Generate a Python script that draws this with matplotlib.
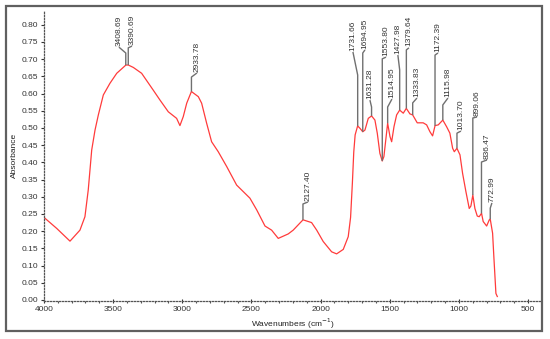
import matplotlib
matplotlib.use("Agg")
import matplotlib.pyplot as plt
import numpy as np
from matplotlib.patches import Rectangle
from matplotlib.ticker import MultipleLocator, FormatStrFormatter

plt.rcParams['font.family'] = ['Liberation Sans', 'DejaVu Sans']

# ---- data ----
wavenumber = [4000, 3908, 3812, 3740, 3704, 3680, 3655, 3631, 3607, 3571, 3523, 3474,
              3427, 3408, 3390, 3354, 3294, 3210, 3161, 3101, 3041, 3017, 2993, 2968,
              2934, 2884, 2860, 2824, 2788, 2740, 2679, 2607, 2511, 2462, 2402, 2354,
              2306, 2234, 2198, 2127, 2065, 2028, 1981, 1920, 1884, 1836, 1800, 1783,
              1770, 1760, 1750, 1732, 1715, 1695, 1679, 1655, 1631, 1607, 1590, 1571,
              1554, 1542, 1523, 1515, 1498, 1486, 1469, 1450, 1428, 1402, 1380, 1354,
              1334, 1301, 1258, 1233, 1209, 1190, 1172, 1149, 1116, 1089, 1065, 1045,
              1033, 1014, 992, 973, 949, 925, 913, 899, 884, 867, 853, 836, 824, 799,
              780, 773, 756, 747, 732, 722]
absorbance = [0.240, 0.208, 0.171, 0.203, 0.242, 0.320, 0.436, 0.494, 0.538, 0.596, 0.630, 0.659,
              0.676, 0.683, 0.683, 0.676, 0.659, 0.610, 0.581, 0.547, 0.528, 0.507, 0.533, 0.572,
              0.606, 0.591, 0.572, 0.514, 0.460, 0.431, 0.388, 0.334, 0.296, 0.262, 0.215, 0.203,
              0.179, 0.192, 0.203, 0.233, 0.225, 0.203, 0.170, 0.140, 0.134, 0.147, 0.184, 0.240,
              0.340, 0.430, 0.480, 0.506, 0.499, 0.489, 0.494, 0.528, 0.535, 0.523, 0.485, 0.426,
              0.404, 0.417, 0.485, 0.514, 0.475, 0.460, 0.504, 0.538, 0.552, 0.543, 0.557, 0.541,
              0.538, 0.515, 0.515, 0.509, 0.489, 0.477, 0.507, 0.509, 0.523, 0.504, 0.485, 0.441,
              0.431, 0.441, 0.422, 0.368, 0.315, 0.266, 0.273, 0.305, 0.266, 0.244, 0.242, 0.252,
              0.228, 0.215, 0.233, 0.235, 0.194, 0.126, 0.019, 0.010]

peak_labels = [3408.69, 3390.69, 2933.78, 2127.40, 1731.66, 1694.95, 1631.28, 1553.80,
               1514.95, 1427.98, 1379.64, 1333.83, 1172.39, 1115.98, 1013.70, 899.06,
               836.47, 772.99]

x_ticks = [4000, 3500, 3000, 2500, 2000, 1500, 1000, 500]

# ---- layout for peak labels: (leader top y, text x, text bottom y) ----
label_layout = [
    (0.718, 3458, 0.735), (0.733, 3364, 0.738), (0.648, 2894, 0.660), (0.279, 2091, 0.285),
    (0.654, 1766, 0.721), (0.718, 1679, 0.727), (0.561, 1643, 0.581), (0.701, 1527, 0.706),
    (0.561, 1484, 0.584), (0.669, 1441, 0.712), (0.727, 1361, 0.733), (0.573, 1303, 0.587),
    (0.712, 1151, 0.718), (0.567, 1079, 0.587), (0.485, 985, 0.491), (0.529, 869, 0.532),
    (0.401, 797, 0.407), (0.267, 761, 0.282),
]

W, H = 550, 339
fig = plt.figure(figsize=(W / 100, H / 100), dpi=100)
fig.patch.set_facecolor('white')

# outer frame
fig.add_artist(Rectangle((5.5 / W, 1 - 331 / H), (542 - 5.5) / W, (331 - 5.7) / H,
                         transform=fig.transFigure, fill=False, edgecolor='#606060',
                         linewidth=1.6))

ax = fig.add_axes([44 / W, 1 - 301 / H, (541 - 44) / W, (301 - 10) / H])
ax.plot(wavenumber, absorbance, color='#ff3b3b', linewidth=0.9)

ax.set_xlim(4000, 406)
ax.set_ylim(-0.003, 0.843)

for s in ['top', 'right']:
    ax.spines[s].set_visible(False)
for s in ['left', 'bottom']:
    ax.spines[s].set_linestyle((0, (1, 1.4)))
    ax.spines[s].set_color('#555555')
    ax.spines[s].set_linewidth(0.9)

ax.set_xticks(x_ticks)
ax.xaxis.set_minor_locator(MultipleLocator(100))
ax.set_yticks(np.round(np.arange(0, 0.801, 0.05), 2))
ax.yaxis.set_major_formatter(FormatStrFormatter('%.2f'))
ax.tick_params(axis='both', labelsize=6, colors='#333333', length=2.5, width=0.8, pad=2)
ax.tick_params(axis='x', which='minor', length=1.5, width=0.8, color='#555555')
ax.tick_params(axis='x', which='major', direction='inout', length=3)

ax.set_xlabel('Wavenumbers (cm$^{-1}$)', fontsize=6, color='#222222', labelpad=3)
ax.set_ylabel('Absorbance', fontsize=6, color='#222222')
ax.yaxis.set_label_coords(-0.052, 0.5)

wn_arr = np.array(wavenumber[::-1])
ab_arr = np.array(absorbance[::-1])
for val, (ytop, tx, ty) in zip(peak_labels, label_layout):
    ybase = float(np.interp(val, wn_arr, ab_arr))
    ax.plot([val, val, tx], [ybase, ytop, ty], color='#707070', linewidth=1.0,
            solid_capstyle='butt')
    ax.text(tx, ty + 0.004, f'{val:.2f}', rotation=90, ha='center', va='bottom',
            fontsize=6, color='#333333')

fig.savefig('out.png', dpi=100)
